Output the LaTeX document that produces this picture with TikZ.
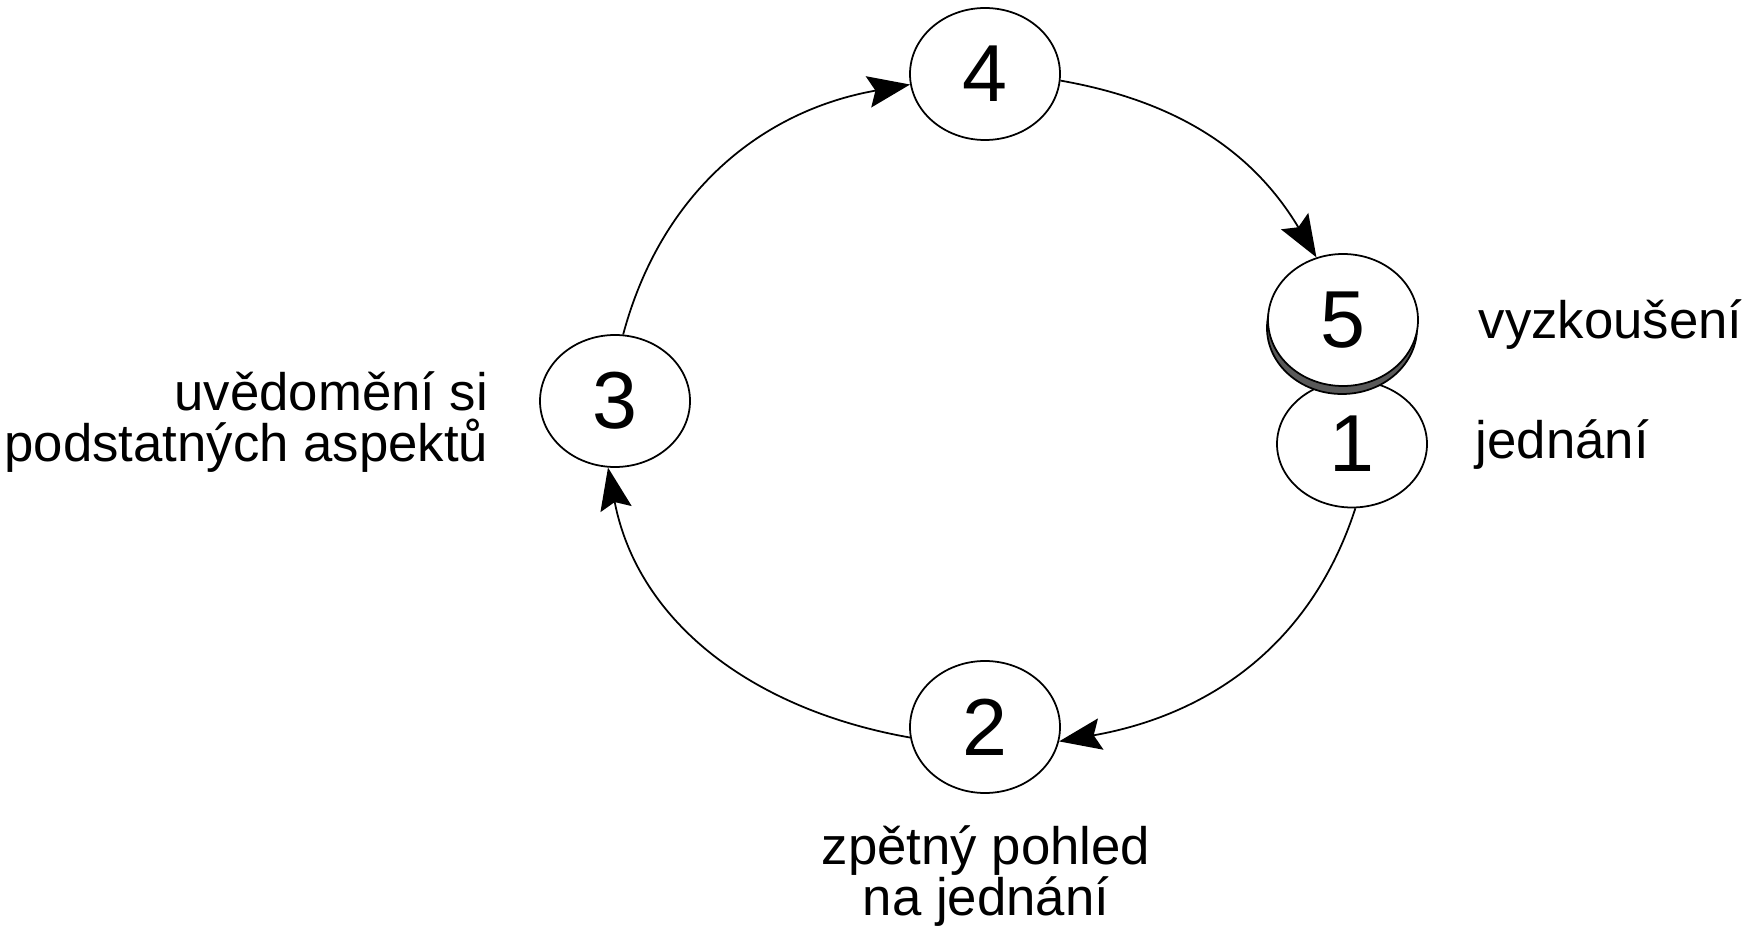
\documentclass[tikz,border=0pt]{standalone}
\usepackage{fontspec}
\setmainfont{Liberation Sans}
\usetikzlibrary{arrows.meta,shapes.geometric,shadows,positioning}

\begin{document}
\begin{tikzpicture}[>={Stealth[length=12pt,width=9pt,inset=2pt]},line width=0.5pt,
  stage/.style={ellipse,draw,fill=white,inner sep=0pt,minimum width=1.5cm,minimum height=1.32cm,font=\fontsize{23}{23}\selectfont},
  tag/.style={inner sep=0pt,font=\fontsize{15}{14.5}\selectfont}]

\useasboundingbox (0,0) rectangle (17.52,9.29);

\node[stage] 	  (n4) at (9.85,8.55)  	{4};
\node[stage] 	  (n3) at (6.15,5.28)  	{3};
\node[stage] 	  (n2) at (9.85,2.02)  	{2};
\node[stage,minimum height=1.27cm] 	  (n1) at (13.52,4.85)  	{1};
\node[stage,general shadow={shadow xshift=-0.01cm,shadow yshift=-0.08cm,fill=black!65,draw=black}] 	  (n5) at (13.43,6.09)  	{5};

\node[tag,anchor=base west] 	  (l5) at (14.78,5.90)  	{vyzkoušení};
\node[tag,anchor=base west] 	  (l1) at (14.75,4.70)  	{jednání};
\node[tag,anchor=east,align=right] 	  (l3) at (4.89,5.07)  	{uvědomění si\\podstatných aspektů};
\node[tag,align=center] 	  (l2) at (9.86,0.53)  	{zpětný pohled\\na jednání};

\path[->] (n3.83)  edge[out=75,in=190]	  	(n4.188)
(n4.355)  edge[out=350,in=121]	  	(n5.113)
(n1.273)  edge[out=252,in=10]	  	(n2.349)
(n2.188)  edge[out=170,in=281]	  	(n3.264);
\end{tikzpicture}
\end{document}
